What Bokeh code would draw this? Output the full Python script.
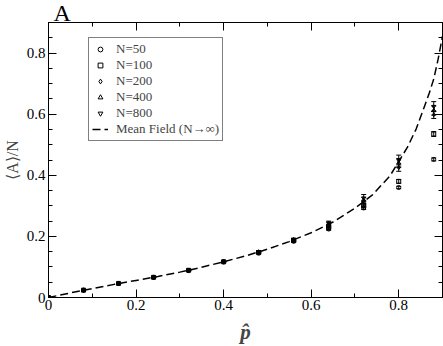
from bokeh.plotting import figure
from bokeh.models import (ColumnDataSource, Range1d, LinearAxis, FixedTicker, Whisker,
                          TeeHead, Legend, LegendItem, Title)
from bokeh.embed import file_html
from bokeh.resources import INLINE

# ---- data ----
p_hat = [0.0, 0.08, 0.16, 0.24, 0.32, 0.40, 0.48, 0.56, 0.64, 0.72, 0.80, 0.88]
n50   = [0.0, 0.024, 0.046, 0.066, 0.088, 0.116, 0.145, 0.184, 0.224, 0.293, 0.360, 0.452]
n100  = [0.0, 0.024, 0.046, 0.066, 0.089, 0.117, 0.147, 0.186, 0.229, 0.300, 0.380, 0.535]
n200  = [0.0, 0.024, 0.046, 0.066, 0.089, 0.117, 0.148, 0.188, 0.235, 0.310, 0.425, 0.598]
n400  = [0.0, 0.024, 0.046, 0.066, 0.089, 0.118, 0.149, 0.189, 0.240, 0.318, 0.440, 0.612]
n800  = [0.0, 0.024, 0.046, 0.067, 0.090, 0.118, 0.150, 0.190, 0.244, 0.325, 0.448, 0.625]
e50   = [0.0, 0.001, 0.001, 0.001, 0.001, 0.002, 0.002, 0.003, 0.004, 0.005, 0.004, 0.005]
e100  = [0.0, 0.001, 0.001, 0.001, 0.001, 0.002, 0.002, 0.003, 0.004, 0.006, 0.006, 0.008]
e200  = [0.0, 0.001, 0.001, 0.001, 0.001, 0.002, 0.003, 0.003, 0.005, 0.008, 0.012, 0.012]
e400  = [0.0, 0.001, 0.001, 0.001, 0.002, 0.002, 0.003, 0.004, 0.006, 0.010, 0.015, 0.015]
e800  = [0.0, 0.001, 0.001, 0.001, 0.002, 0.002, 0.003, 0.004, 0.006, 0.012, 0.018, 0.016]

mf_p   = [0.0, 0.05, 0.10, 0.15, 0.20, 0.25, 0.30, 0.35, 0.40, 0.45, 0.50, 0.55, 0.60,
          0.65, 0.70, 0.74, 0.78, 0.80, 0.82, 0.84, 0.86, 0.87, 0.88, 0.89, 0.90]
mf_val = [0.0, 0.015, 0.029, 0.043, 0.056, 0.069, 0.083, 0.099, 0.117, 0.136, 0.158, 0.183, 0.212,
          0.247, 0.292, 0.336, 0.398, 0.445, 0.492, 0.552, 0.630, 0.670, 0.715, 0.780, 0.855]

series_labels = ["N=50", "N=100", "N=200", "N=400", "N=800"]
mf_label = "Mean Field (N\u2192\u221e)"
x_ticks = [0.0, 0.2, 0.4, 0.6, 0.8]
x_tick_labels = ["0", "0.2", "0.4", "0.6", "0.8"]
y_ticks = [0.0, 0.2, 0.4, 0.6, 0.8]
y_tick_labels = ["0", "0.2", "0.4", "0.6", "0.8"]
title_text = "A"
x_label = "p\u0302"
y_label = "\u27e8A\u27e9/N"

FONT = "Liberation Serif"

title = Title(text=title_text, text_font=FONT, text_font_size="24px", text_font_style="normal",
              text_color="black", align="left", offset=5, standoff=-6, text_line_height=0.7)

p = figure(width=443, height=346, title=title, output_backend="svg", toolbar_location=None,
           x_range=Range1d(0, 0.9), y_range=Range1d(0, 0.9),
           min_border_left=48, min_border_right=1, min_border_top=0, min_border_bottom=48)
p.xgrid.visible = False
p.ygrid.visible = False
p.outline_line_color = "black"
p.background_fill_color = "white"
p.border_fill_color = "white"

x_minor = [i * 0.1 for i in range(10)]
y_minor = [i * 0.05 for i in range(19)]

def style_axis(ax, ticks, minor, labels, show_labels):
    ax.ticker = FixedTicker(ticks=ticks, minor_ticks=minor)
    ax.major_tick_in = 8
    ax.major_tick_out = 0
    ax.minor_tick_in = 4
    ax.minor_tick_out = 0
    ax.axis_line_color = "black"
    ax.major_tick_line_color = "black"
    ax.minor_tick_line_color = "black"
    ax.major_label_text_font = FONT
    ax.major_label_text_color = "black"
    if show_labels:
        ax.major_label_overrides = {t: l for t, l in zip(ticks, labels)}
        ax.major_label_text_font_size = "15px"
    else:
        ax.major_label_overrides = {t: "" for t in ticks}
        ax.major_label_text_font_size = "1px"
        ax.major_label_standoff = 0

xa = p.xaxis[0]
ya = p.yaxis[0]
style_axis(xa, x_ticks, x_minor, x_tick_labels, True)
style_axis(ya, y_ticks, y_minor, y_tick_labels, True)
xa.major_label_standoff = 2
ya.major_label_standoff = 3
xa.axis_label = x_label
xa.axis_label_text_font = FONT
xa.axis_label_text_font_size = "21px"
xa.axis_label_text_font_style = "bold italic"
xa.axis_label_standoff = 7
ya.axis_label = y_label
ya.axis_label_text_font = FONT
ya.axis_label_text_font_size = "16px"
ya.axis_label_text_font_style = "normal"
ya.axis_label_text_line_height = 0.8
ya.axis_label_standoff = 3

top_ax = LinearAxis()
style_axis(top_ax, x_ticks, x_minor, x_tick_labels, False)
p.add_layout(top_ax, "above")
right_ax = LinearAxis()
style_axis(right_ax, y_ticks, y_minor, y_tick_labels, False)
p.add_layout(right_ax, "right")

# mean field curve
mf = p.line(mf_p, mf_val, line_color="black", line_width=1.5, line_dash="8 4")

markers = ["circle", "square", "diamond", "triangle", "inverted_triangle"]
ys = [n50, n100, n200, n400, n800]
es = [e50, e100, e200, e400, e800]
renderers = []
for m, yv, ev in zip(markers, ys, es):
    src = ColumnDataSource(dict(x=p_hat, y=yv,
                                lo=[a - b for a, b in zip(yv, ev)],
                                hi=[a + b for a, b in zip(yv, ev)]))
    w = Whisker(source=src, base="x", upper="hi", lower="lo", dimension="height",
                line_color="black", line_width=1,
                upper_head=TeeHead(size=5, line_color="black", line_width=1),
                lower_head=TeeHead(size=5, line_color="black", line_width=1))
    p.add_layout(w)
    r = p.scatter("x", "y", source=src, marker=m, size=4, line_color="black",
                  line_width=1, fill_color=None)
    renderers.append(r)

items = [LegendItem(label=l, renderers=[r]) for l, r in zip(series_labels, renderers)]
items.append(LegendItem(label=mf_label, renderers=[mf]))
legend = Legend(items=items, location=(40, 156))
legend.border_line_color = "black"
legend.border_line_width = 1
legend.background_fill_color = "white"
legend.background_fill_alpha = 1
legend.label_text_font = FONT
legend.label_text_font_size = "13px"
legend.label_text_line_height = 1.0
legend.label_height = 12
legend.glyph_height = 12
legend.glyph_width = 16
legend.label_standoff = 8
legend.spacing = 0
legend.padding = 3
legend.margin = 0
p.add_layout(legend)

open("out.html", "w").write(file_html(p, INLINE))
